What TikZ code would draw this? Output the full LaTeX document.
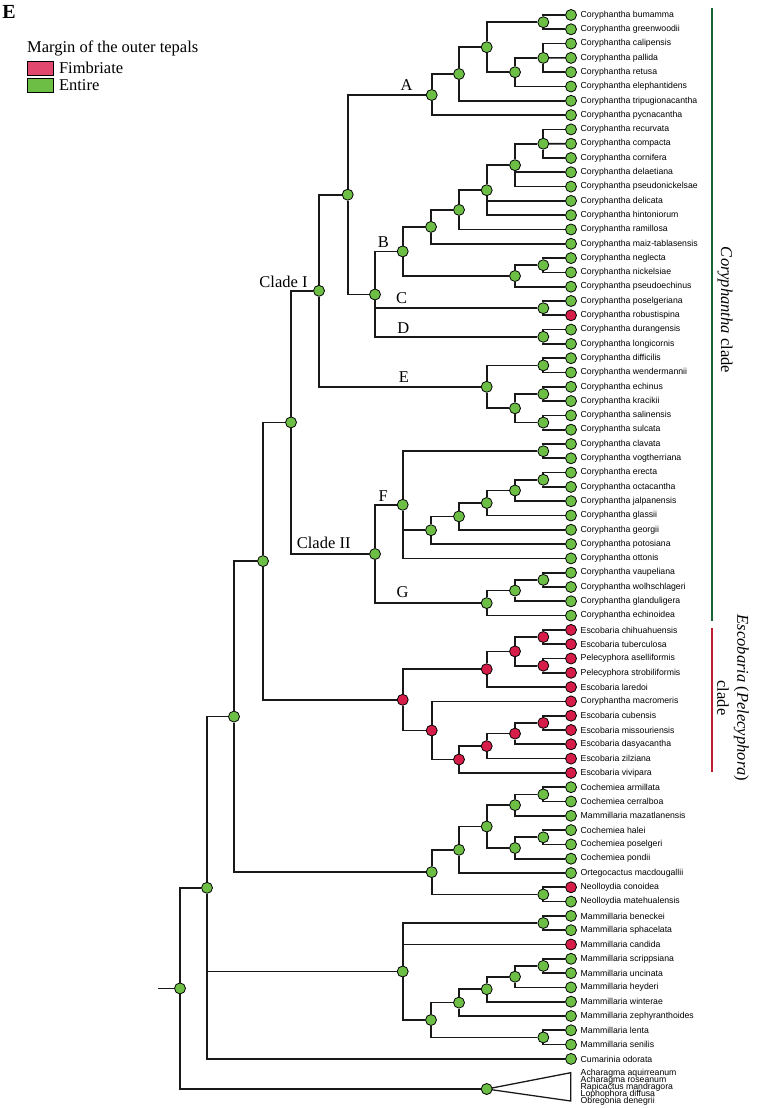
\documentclass[tikz,border=0pt]{standalone}
\usepackage{fontspec}
\setmainfont{Liberation Serif}
\setsansfont{Liberation Sans}
\usetikzlibrary{positioning}

\definecolor{entire}{RGB}{108,190,69}
\definecolor{fimb}{RGB}{214,28,72}
\definecolor{fimbkey}{RGB}{226,72,110}
\definecolor{corbar}{RGB}{25,100,50}
\definecolor{escbar}{RGB}{190,30,45}

\tikzset{
	br/.style={line width=1.7pt, black!90},
	nd/.style={circle, draw=black, line width=0.8pt, fill=entire, minimum size=11pt, inner sep=0pt},
	ndr/.style={nd, fill=fimb},
	tax/.style={anchor=west, inner sep=0pt, font=\fontsize{8.7}{10}\selectfont\sffamily},
	cladelab/.style={font=\fontsize{16.5}{20}\selectfont},
	keybox/.style={draw=black, line width=0.8pt, minimum width=26pt, minimum height=14pt, inner sep=0pt}
}

\begin{document}
\begin{tikzpicture}[x=1pt,y=-1pt]
	\useasboundingbox (0,0) rectangle (756,1108);

	% leaves
	\foreach \nm/\st [count=\i] in {Coryphantha bumamma/nd, Coryphantha greenwoodii/nd, Coryphantha calipensis/nd, Coryphantha pallida/nd, Coryphantha retusa/nd, Coryphantha elephantidens/nd, Coryphantha tripugionacantha/nd, Coryphantha pycnacantha/nd, Coryphantha recurvata/nd, Coryphantha compacta/nd, Coryphantha cornifera/nd, Coryphantha delaetiana/nd, Coryphantha pseudonickelsae/nd, Coryphantha delicata/nd, Coryphantha hintoniorum/nd, Coryphantha ramillosa/nd, Coryphantha maiz-tablasensis/nd, Coryphantha neglecta/nd, Coryphantha nickelsiae/nd, Coryphantha pseudoechinus/nd, Coryphantha poselgeriana/nd, Coryphantha robustispina/ndr, Coryphantha durangensis/nd, Coryphantha longicornis/nd, Coryphantha difficilis/nd, Coryphantha wendermannii/nd, Coryphantha echinus/nd, Coryphantha kracikii/nd, Coryphantha salinensis/nd, Coryphantha sulcata/nd, Coryphantha clavata/nd, Coryphantha vogtherriana/nd, Coryphantha erecta/nd, Coryphantha octacantha/nd, Coryphantha jalpanensis/nd, Coryphantha glassii/nd, Coryphantha georgii/nd, Coryphantha potosiana/nd, Coryphantha ottonis/nd, Coryphantha vaupeliana/nd, Coryphantha wolhschlageri/nd, Coryphantha glanduligera/nd, Coryphantha echinoidea/nd, Escobaria chihuahuensis/ndr, Escobaria tuberculosa/ndr, Pelecyphora aselliformis/ndr, Pelecyphora strobiliformis/ndr, Escobaria laredoi/ndr, Coryphantha macromeris/ndr, Escobaria cubensis/ndr, Escobaria missouriensis/ndr, Escobaria dasyacantha/ndr, Escobaria zilziana/ndr, Escobaria vivipara/ndr, Cochemiea armillata/nd, Cochemiea cerralboa/nd, Mammillaria mazatlanensis/nd, Cochemiea halei/nd, Cochemiea poselgeri/nd, Cochemiea pondii/nd, Ortegocactus macdougallii/nd, Neolloydia conoidea/ndr, Neolloydia matehualensis/nd, Mammillaria beneckei/nd, Mammillaria sphacelata/nd, Mammillaria candida/ndr, Mammillaria scrippsiana/nd, Mammillaria uncinata/nd, Mammillaria heyderi/nd, Mammillaria winterae/nd, Mammillaria zephyranthoides/nd, Mammillaria lenta/nd, Mammillaria senilis/nd, Cumarinia odorata/nd}{
		\node[\st] (l\i) at (571,{15+(\i-1)*14.3}) {};
		\node[tax] (t\i) at (580.5,{15+(\i-1)*14.3}) {\nm};
	}

	% Coryphantha clade I
	\node[nd] (a1) at (543.3,22.2) {};
	\node[nd] (a2) at (543.3,57.9) {};
	\node[nd] (a3) at (515,72.2) {};
	\node[nd] (a4) at (486.7,47.2) {};
	\node[nd] (a5) at (459,74) {};
	\node[nd] (A) at (431.7,95) {};
	\node[nd] (b1) at (543.3,143.7) {};
	\node[nd] (b2) at (515,165.2) {};
	\node[nd] (b3) at (486.7,190.2) {};
	\node[nd] (b4) at (459,209.9) {};
	\node[nd] (b5) at (431,226.9) {};
	\node[nd] (b6) at (543.3,265.2) {};
	\node[nd] (b7) at (515,276) {};
	\node[nd] (B) at (402.7,251.4) {};
	\node[nd] (C) at (543.3,308.2) {};
	\node[nd] (D) at (543.3,336.8) {};
	\node[nd] (BCD) at (375,294.5) {};
	\node[nd] (cA) at (347.7,194.7) {};
	\node[nd] (e1) at (543.3,365.4) {};
	\node[nd] (e3) at (543.3,394) {};
	\node[nd] (e4) at (543.3,422.6) {};
	\node[nd] (e2) at (515,408.3) {};
	\node[nd] (E) at (486.7,386.8) {};
	\node[nd] (cI) at (319,290.8) {};

	% Coryphantha clade II
	\node[nd] (f1) at (543.3,451.2) {};
	\node[nd] (f6) at (543.3,479.8) {};
	\node[nd] (f5) at (515,490.5) {};
	\node[nd] (f4) at (486.7,503) {};
	\node[nd] (f3) at (459,516.4) {};
	\node[nd] (f2) at (431,530.2) {};
	\node[nd] (F) at (402.7,504.8) {};
	\node[nd] (g2) at (543.3,579.9) {};
	\node[nd] (g1) at (515,590.6) {};
	\node[nd] (G) at (486.7,603.1) {};
	\node[nd] (cII) at (375,554) {};
	\node[nd] (cor) at (291,422.4) {};

	% Escobaria
	\node[ndr] (s1) at (543.3,637) {};
	\node[ndr] (s2) at (543.3,665.7) {};
	\node[ndr] (s3) at (515,651.4) {};
	\node[ndr] (s4) at (486.7,669.2) {};
	\node[ndr] (s9) at (543.3,722.9) {};
	\node[ndr] (s8) at (515,733.6) {};
	\node[ndr] (s7) at (486.7,746.1) {};
	\node[ndr] (s6) at (459,759.5) {};
	\node[ndr] (s5) at (431.7,730.5) {};
	\node[ndr] (esc) at (402.7,699.8) {};
	\node[nd] (n263) at (263,561.1) {};

	% Cochemiea
	\node[nd] (c1) at (543.3,794.4) {};
	\node[nd] (c2) at (515,805.1) {};
	\node[nd] (c3) at (543.3,837.3) {};
	\node[nd] (c4) at (515,848) {};
	\node[nd] (c5) at (486.7,826.5) {};
	\node[nd] (c6) at (459,849.8) {};
	\node[nd] (n1) at (543.3,894.5) {};
	\node[nd] (coch) at (431.7,872.1) {};
	\node[nd] (n234) at (234,716.6) {};

	% Mammillaria
	\node[nd] (m1) at (543.3,923) {};
	\node[nd] (m7) at (543.3,965.9) {};
	\node[nd] (m6) at (515,976.7) {};
	\node[nd] (m5) at (486.7,989.2) {};
	\node[nd] (m3) at (459,1002.6) {};
	\node[nd] (m4) at (543.3,1037.4) {};
	\node[nd] (m2) at (431,1020) {};
	\node[nd] (mam) at (402.7,971.5) {};
	\node[nd] (n207) at (207,887.8) {};

	% outgroup
	\coordinate (ogc) at (486.7,1089);
	\coordinate (ogt) at (570.7,1072.7);
	\coordinate (ogb) at (570.7,1101);
	\draw[br,line width=1.3pt] (ogc) -- (ogt) -- (ogb) -- cycle;
	\node[nd] (og) at (ogc) {};
	\foreach \nm [count=\i] in {Acharagma aquirreanum, Acharagma roseanum, Rapicactus mandragora, Lophophora diffusa, Obregonia denegrii}
		\node[tax] (o\i) at (580.5,{1073+(\i-1)*7}) {\nm};

	\node[nd] (root) at (180,988.4) {};
	\coordinate (stub) at (158,988.4);
	\draw[br] (stub) -- (root);

	\foreach \p/\c in {a1/l1, a1/l2, a2/l3, a2/l5, a3/a2, a3/l6, a4/a1, a4/a3, a5/a4, a5/l7, A/a5, A/l8,
		b1/l9, b1/l11, b2/b1, b2/l12, b2/l13, b3/b2, b3/l14, b3/l15, b4/b3, b4/l16, b5/b4, b5/l17, b6/l18, b6/l19, b7/b6, b7/l20, B/b5, B/b7,
		C/l21, C/l22, D/l23, D/l24, BCD/B, BCD/C, BCD/D, cA/A, cA/BCD,
		e1/l25, e1/l26, e3/l27, e3/l28, e4/l29, e4/l30, e2/e3, e2/e4, E/e1, E/e2, cI/cA, cI/E,
		f1/l31, f1/l32, f6/l33, f6/l34, f5/f6, f5/l35, f4/f5, f4/l36, f3/f4, f3/l37, f2/f3, f2/l38, F/f1, F/f2, F/l39,
		g2/l40, g2/l41, g1/g2, g1/l42, G/g1, G/l43, cII/F, cII/G, cor/cI, cor/cII,
		s1/l44, s1/l45, s2/l46, s2/l47, s3/s1, s3/s2, s4/s3, s4/l48, s9/l50, s9/l51, s8/s9, s8/l52, s7/s8, s7/l53, s6/s7, s6/l54, s5/l49, s5/s6, esc/s4, esc/s5, n263/cor, n263/esc,
		c1/l55, c1/l56, c2/c1, c2/l57, c3/l58, c3/l59, c4/c3, c4/l60, c5/c2, c5/c4, c6/c5, c6/l61, n1/l62, n1/l63, coch/c6, coch/n1, n234/n263, n234/coch,
		m1/l64, m1/l65, m7/l67, m7/l68, m6/m7, m6/l69, m5/m6, m5/l70, m3/m5, m3/l71, m4/l72, m4/l73, m2/m3, m2/m4, mam/m1, mam/l66, mam/m2,
		n207/n234, n207/mam, n207/l74, root/n207, root/og}
		\draw[br] (\p) |- (\c);
	\draw[br] (a2) -- (l4);
	\draw[br] (b1) -- (l10);

	% clade letters
	\node[cladelab] (labA) at (406.7,85) {A};
	\node[cladelab] (labB) at (383.3,241.7) {B};
	\node[cladelab] (labC) at (401.7,298.3) {C};
	\node[cladelab] (labD) at (403.3,328.3) {D};
	\node[cladelab] (labE) at (404,377.3) {E};
	\node[cladelab] (labF) at (383.3,496) {F};
	\node[cladelab] (labG) at (402.7,592.3) {G};
	\node[cladelab] (labI) at (283.5,281.7) {Clade I};
	\node[cladelab] (labII) at (323.7,543.3) {Clade II};

	% clade bars
	\draw[corbar,line width=2.4pt] (711.7,8.3) -- (711.7,621);
	\draw[escbar,line width=2.4pt] (711.7,628.3) -- (711.7,772.3);
	\node[cladelab,rotate=-90] (corlab) at (725,310) {\textit{Coryphantha} clade};
	\node[cladelab,rotate=-90,align=center] (esclab) at (733,698) {\textit{Escobaria} (\textit{Pelecyphora})\\clade};

	% key
	\node[font=\fontsize{20}{20}\selectfont\bfseries] (panel) at (9,12) {E};
	\node[cladelab,anchor=west,inner sep=0pt] (keytitle) at (27,48) {Margin of the outer tepals};
	\node[keybox,fill=fimbkey,anchor=west] (keyf) at (27,68) {};
	\node[cladelab,inner sep=0pt,right=5pt of keyf] (keyftx) {Fimbriate};
	\node[keybox,fill=entire,anchor=west] (keye) at (27,85) {};
	\node[cladelab,inner sep=0pt,right=5pt of keye] (keyetx) {Entire};
\end{tikzpicture}
\end{document}
